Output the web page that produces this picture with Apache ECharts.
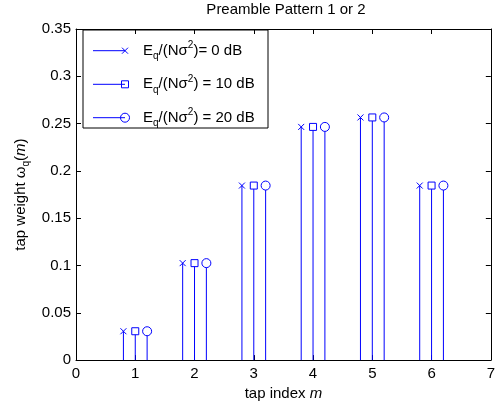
<!DOCTYPE html>
<html>
<head>
<meta charset="utf-8">
<script src="https://cdn.jsdelivr.net/npm/echarts@6/dist/echarts.min.js"></script>
<style>html,body{margin:0;padding:0;background:#fff}#c{width:498px;height:406px}</style>
</head>
<body>
<div id="c"></div>
<script>
// ---- data ----
const taps = [1, 2, 3, 4, 5, 6];
const w0dB  = [0.0305, 0.1025, 0.1845, 0.2465, 0.2565, 0.1845];
const w10dB = [0.0305, 0.1025, 0.1845, 0.2465, 0.2565, 0.1845];
const w20dB = [0.0305, 0.1025, 0.1845, 0.2465, 0.2565, 0.1845];
const seriesNames = ['Eq/(Nσ2)= 0 dB', 'Eq/(Nσ2) = 10 dB', 'Eq/(Nσ2) = 20 dB'];
const legendLabels = ['= 0 dB', ' = 10 dB', ' = 20 dB'];
const xTicks = [0, 1, 2, 3, 4, 5, 6, 7];
const yTicks = [0, 0.05, 0.1, 0.15, 0.2, 0.25, 0.3, 0.35];

const BLUE = '#0000ff';
const FONT = '"Liberation Sans", Arial, Helvetica, sans-serif';
const FS = 15;
const offsets = [-0.2, 0, 0.2];
const markers = ['x', 'rect', 'circle'];

function makeRender(kind) {
  return function (params, api) {
    const x = api.value(0), y = api.value(1);
    const top = api.coord([x, y]);
    const base = api.coord([x, 0]);
    const st = { stroke: BLUE, fill: 'none', lineWidth: 1 };
    const ch = [];
    let stemTop = top[1];
    if (kind === 'rect') stemTop = top[1] + 3.5;
    if (kind === 'circle') stemTop = top[1] + 4.5;
    ch.push({ type: 'line', shape: { x1: base[0], y1: base[1], x2: top[0], y2: stemTop }, style: st });
    if (kind === 'x') {
      const h = 3;
      ch.push({ type: 'line', shape: { x1: top[0] - h, y1: top[1] - h, x2: top[0] + h, y2: top[1] + h }, style: st });
      ch.push({ type: 'line', shape: { x1: top[0] - h, y1: top[1] + h, x2: top[0] + h, y2: top[1] - h }, style: st });
    } else if (kind === 'rect') {
      ch.push({ type: 'rect', shape: { x: top[0] - 3.5, y: top[1] - 3.5, width: 7, height: 7 }, style: st });
    } else {
      ch.push({ type: 'circle', shape: { cx: top[0], cy: top[1], r: 4.5 }, style: st });
    }
    return { type: 'group', children: ch };
  };
}

const allW = [w0dB, w10dB, w20dB];
const series = allW.map((w, k) => ({
  name: seriesNames[k],
  type: 'custom',
  coordinateSystem: 'cartesian2d',
  xAxisIndex: 0, yAxisIndex: 0,
  renderItem: makeRender(markers[k]),
  encode: { x: 0, y: 1 },
  data: taps.map((t, i) => [t + offsets[k], w[i]]),
  z: 3
}));

const axisCommon = {
  axisLine: { show: true, onZero: false, lineStyle: { color: '#000', width: 1 } },
  axisTick: { show: true, inside: true, length: 5, lineStyle: { color: '#000', width: 1 } },
  splitLine: { show: false }
};
const lblStyle = { color: '#000', fontSize: FS, fontFamily: FONT };

// legend (drawn as graphic)
const LX = 83, LY = 30, LW = 185, LH = 98;
const rowY = [50.7, 84.3, 117.7];
const legendChildren = [{
  type: 'rect', shape: { x: LX, y: LY, width: LW, height: LH },
  style: { fill: '#fff', stroke: '#000', lineWidth: 1 }
}];
rowY.forEach((ry, k) => {
  const lx1 = 93, lx2 = 125;
  const st = { stroke: BLUE, fill: 'none', lineWidth: 1 };
  legendChildren.push({ type: 'line', shape: { x1: lx1, y1: ry, x2: lx2, y2: ry }, style: st });
  if (markers[k] === 'x') {
    legendChildren.push({ type: 'line', shape: { x1: lx2 - 3, y1: ry - 3, x2: lx2 + 3, y2: ry + 3 }, style: st });
    legendChildren.push({ type: 'line', shape: { x1: lx2 - 3, y1: ry + 3, x2: lx2 + 3, y2: ry - 3 }, style: st });
  } else if (markers[k] === 'rect') {
    legendChildren.push({ type: 'rect', shape: { x: lx2 - 3.5, y: ry - 3.5, width: 7, height: 7 }, style: st });
  } else {
    legendChildren.push({ type: 'circle', shape: { cx: lx2, cy: ry, r: 4.5 }, style: st });
  }
  legendChildren.push({
    type: 'text', x: 143, y: ry,
    style: {
      text: '{b|E}{sub|q}{b|/(Nσ}{sup|2}{b|)' + legendLabels[k] + '}',
      verticalAlign: 'middle', align: 'left',
      rich: {
        b: { fontSize: FS, fontFamily: FONT, fill: '#000', lineHeight: 21, verticalAlign: 'middle' },
        sub: { fontSize: 10, fontFamily: FONT, fill: '#000', verticalAlign: 'bottom', lineHeight: 21 },
        sup: { fontSize: 10, fontFamily: FONT, fill: '#000', verticalAlign: 'top', lineHeight: 21 }
      }
    }
  });
});

const option = {
  animation: false,
  backgroundColor: '#fff',
  title: {
    text: 'Preamble Pattern 1 or 2',
    left: 286, top: 2, textAlign: 'center', padding: 0,
    textStyle: { fontSize: FS, fontWeight: 'normal', color: '#000', fontFamily: FONT }
  },
  grid: { left: 76, right: 5, top: 29, bottom: 45, containLabel: false },
  xAxis: [
    Object.assign({}, axisCommon, {
      type: 'value', position: 'bottom', min: xTicks[0], max: xTicks[xTicks.length - 1], interval: 1,
      axisLabel: Object.assign({ margin: 6 }, lblStyle),
      name: '{n|tap index }{i|m}', nameLocation: 'middle', nameGap: 23,
      nameTextStyle: { rich: {
        n: { fontSize: FS, fontFamily: FONT, color: '#000' },
        i: { fontSize: FS, fontFamily: FONT, color: '#000', fontStyle: 'italic' }
      } }
    }),
    Object.assign({}, axisCommon, {
      type: 'value', position: 'top', min: xTicks[0], max: xTicks[xTicks.length - 1], interval: 1,
      axisLabel: { show: false }
    })
  ],
  yAxis: [
    Object.assign({}, axisCommon, {
      type: 'value', position: 'left', min: yTicks[0], max: yTicks[yTicks.length - 1], interval: 0.05,
      axisLabel: Object.assign({ margin: 5 }, lblStyle),
      name: '{n|tap weight ω}{s|q}{n|(}{i|m}{n|)}', nameLocation: 'middle', nameGap: 37, nameRotate: 90,
      nameTextStyle: { rich: {
        n: { fontSize: FS, fontFamily: FONT, color: '#000', lineHeight: 20, verticalAlign: 'middle' },
        s: { fontSize: 10, fontFamily: FONT, color: '#000', lineHeight: 20, verticalAlign: 'bottom' },
        i: { fontSize: FS, fontFamily: FONT, color: '#000', fontStyle: 'italic', lineHeight: 20, verticalAlign: 'middle' }
      } }
    }),
    Object.assign({}, axisCommon, {
      type: 'value', position: 'right', min: yTicks[0], max: yTicks[yTicks.length - 1], interval: 0.05,
      axisLabel: { show: false }
    })
  ],
  series: series,
  graphic: [{ type: 'group', z: 100, children: legendChildren }]
};

const chart = echarts.init(document.getElementById('c'), null, { renderer: 'canvas' });
chart.setOption(option);
</script>
</body>
</html>
